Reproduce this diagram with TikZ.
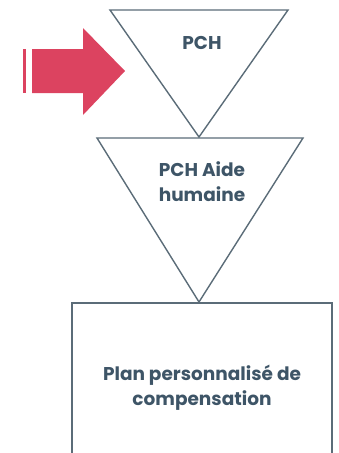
\documentclass[tikz,border=0pt]{standalone}
\usepackage{fontspec}
\setmainfont{Poppins}
\definecolor{linec}{HTML}{5B6C78}
\definecolor{textc}{HTML}{3E5567}
\definecolor{arrowc}{HTML}{DC4360}
\tikzset{
  shapeline/.style={draw=linec, line width=1.4pt, line join=miter},
  lbl/.style={text=textc, font=\fontsize{18.5}{25}\selectfont\bfseries, align=center, inner sep=0pt},
  redfill/.style={fill=arrowc, draw=none}
}
\begin{document}
\begin{tikzpicture}[x=1pt,y=-1pt]
\useasboundingbox (0,0) rectangle (338,453);
\clip (0,0) rectangle (338,453);
% triangle 1
\coordinate (t1a) at (110,10);
\coordinate (t1b) at (288,10);
\coordinate (t1c) at (199,137);
\draw[shapeline] (t1a) -- (t1b) -- (t1c) -- cycle;
% triangle 2
\coordinate (t2a) at (97,138);
\coordinate (t2b) at (303,138);
\coordinate (t2c) at (199,302);
\draw[shapeline] (t2a) -- (t2b) -- (t2c) -- cycle;
% rectangle
\coordinate (r1) at (72,303);
\coordinate (r2) at (332,470);
\draw[shapeline] (r1) rectangle (r2);
% labels
\node[lbl] (pch) at (202,43) {PCH};
\node[lbl] (pchah) at (202,182) {PCH Aide\\humaine};
\node[lbl] (plan) at (202,388) {Plan personnalisé de\\compensation};
% red arrow
\fill[redfill] (23,49) rectangle (25.5,93);
\fill[redfill] (32,49) -- (83,49) -- (83,28) -- (125,71) -- (83,115) -- (83,93) -- (32,93) -- cycle;
\end{tikzpicture}
\end{document}
